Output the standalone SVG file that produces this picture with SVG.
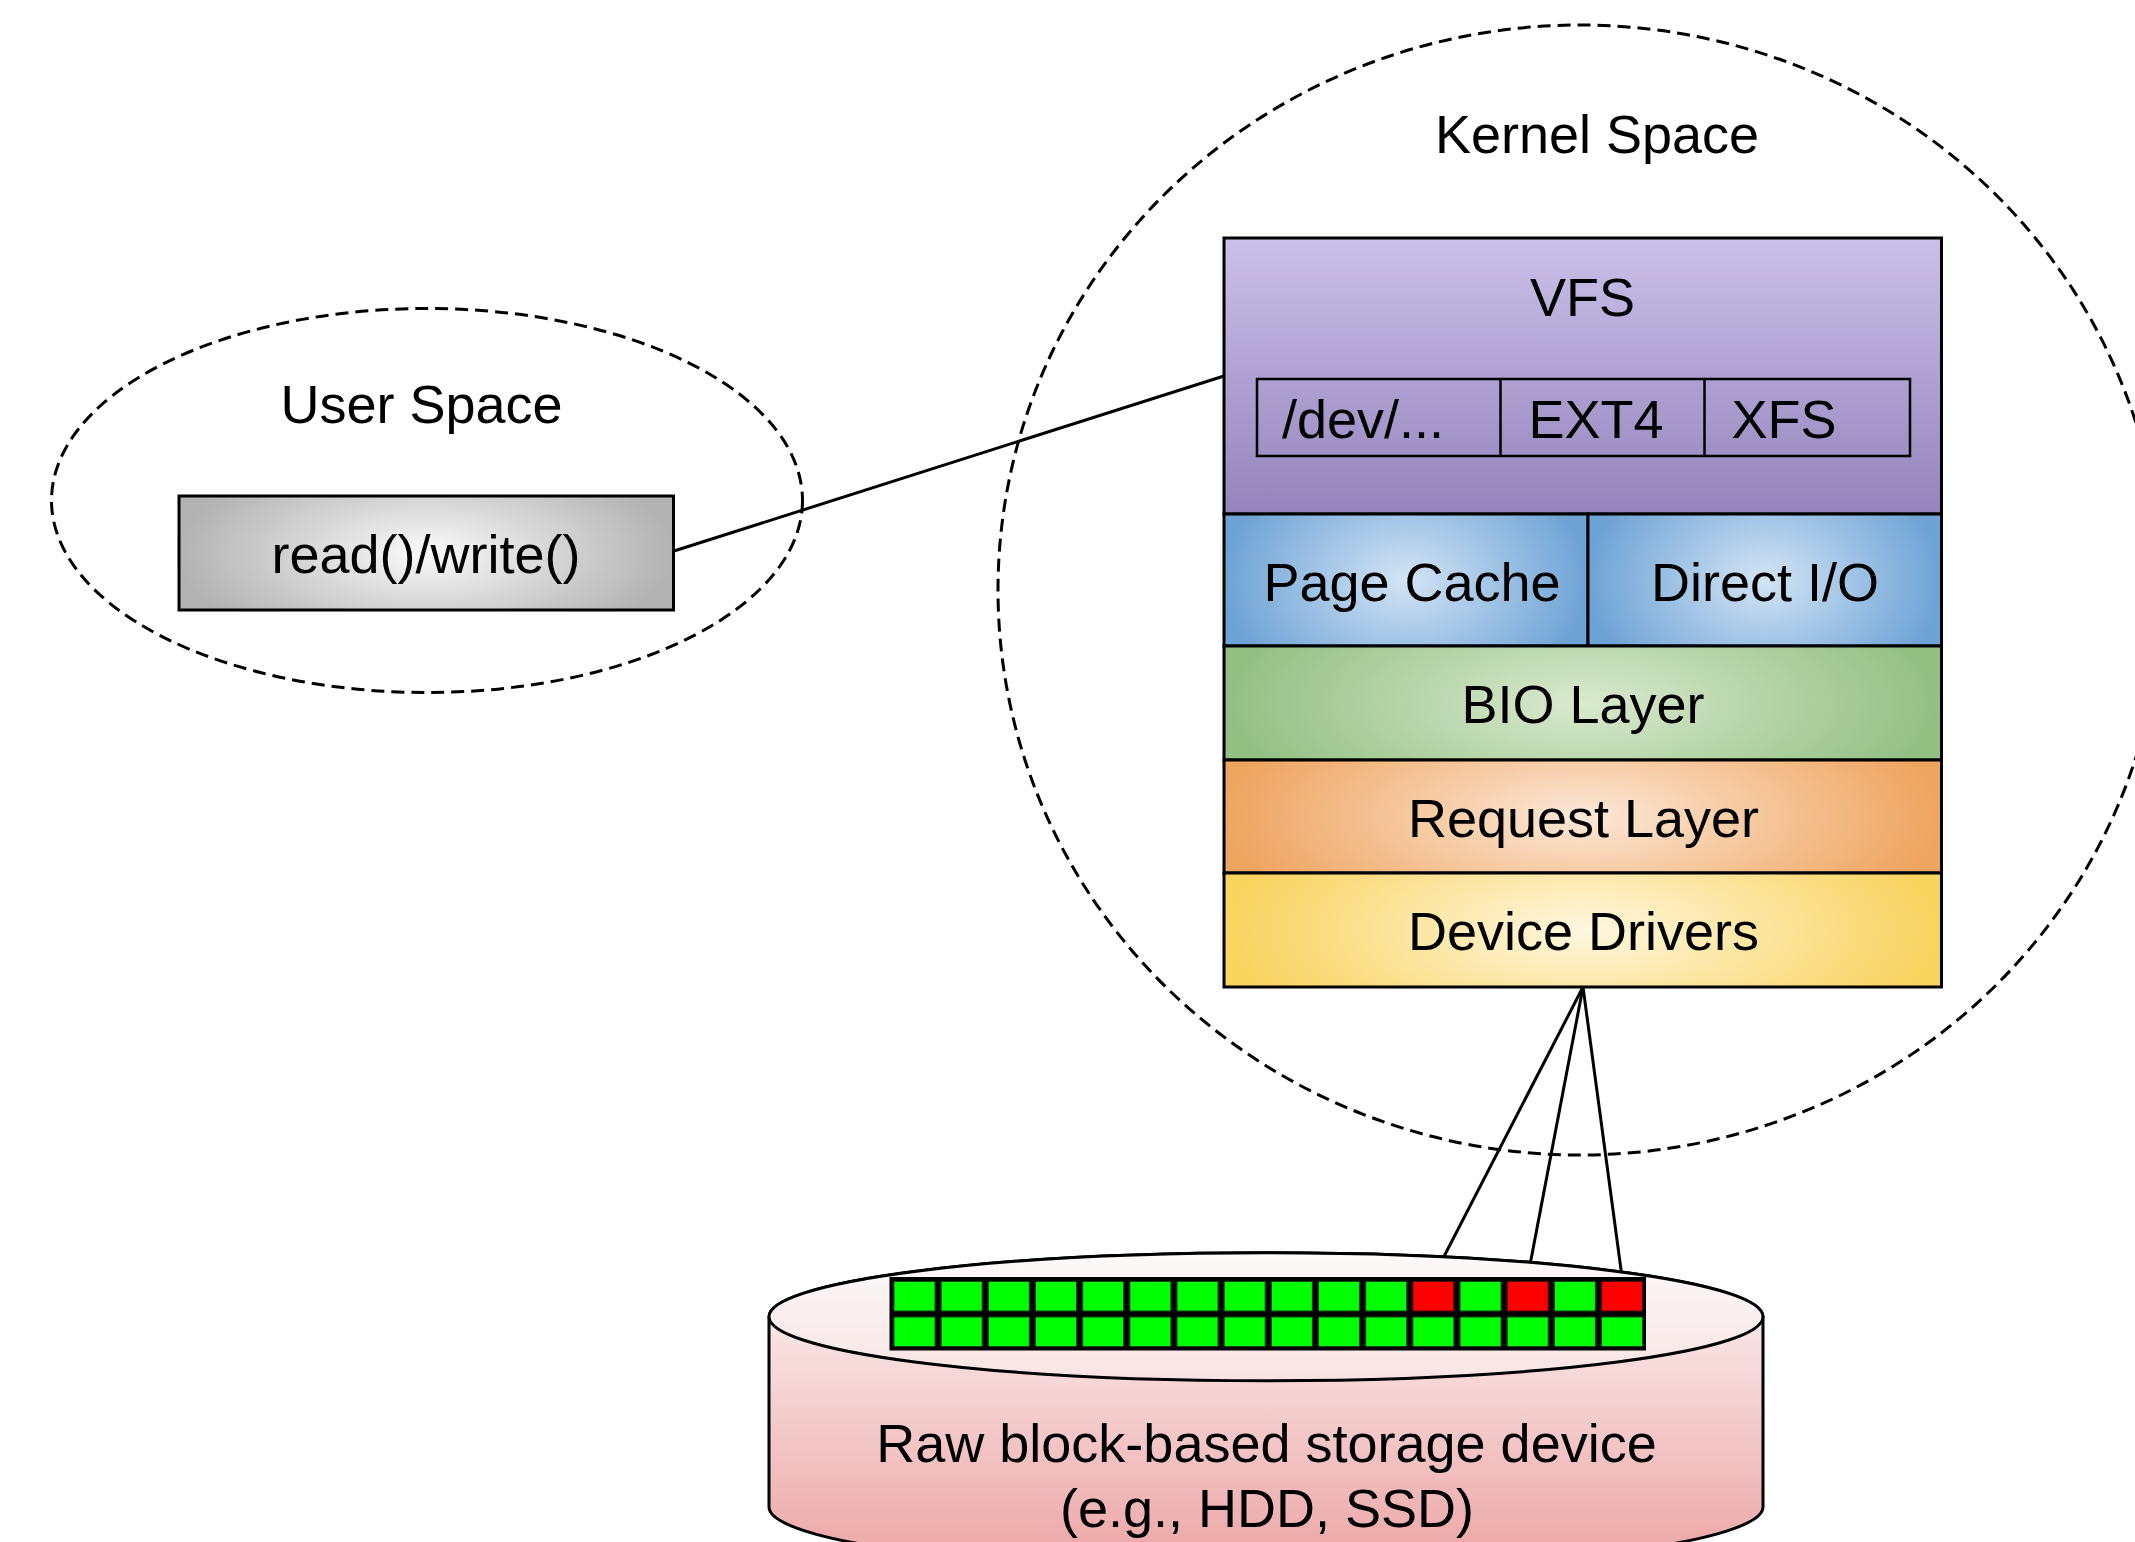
<svg xmlns="http://www.w3.org/2000/svg" width="2135" height="1542" viewBox="0 0 2135 1542">
<style>
text{font-family:"Liberation Sans",Arial,Helvetica,sans-serif;font-size:54px;fill:#000}
.c{text-anchor:middle}
.box{stroke:#000;stroke-width:3}
.cell{fill:none;stroke:#000;stroke-width:2.5}
.zone{fill:none;stroke:#000;stroke-width:3;stroke-dasharray:13 7}
.conn{stroke:#000;stroke-width:3;fill:none}
.g{fill:#00ff00;stroke:#0a4a0a;stroke-width:1}
.r{fill:#ff0000;stroke:#4a0a0a;stroke-width:1}
</style>
<defs>
<linearGradient id="gVfs" x1="0" y1="0" x2="0" y2="1"><stop offset="0" stop-color="#cbc0e9"/><stop offset="1" stop-color="#9384bb"/></linearGradient>
<radialGradient id="gGray" cx="0.5" cy="0.5" r="0.5" gradientTransform="matrix(1 0 0 1.8 0 -0.4)"><stop offset="0" stop-color="#fafafa"/><stop offset="1" stop-color="#b3b3b3"/></radialGradient>
<radialGradient id="gBlue" cx="0.5" cy="0.5" r="0.5" gradientTransform="matrix(1 0 0 2 0 -0.5)"><stop offset="0" stop-color="#d3e4f5"/><stop offset="1" stop-color="#6ea3d5"/></radialGradient>
<radialGradient id="gGreen" cx="0.5" cy="0.5" r="0.5" gradientTransform="matrix(1 0 0 2.4 0 -0.7)"><stop offset="0" stop-color="#d9eacf"/><stop offset="1" stop-color="#93bf83"/></radialGradient>
<radialGradient id="gOrange" cx="0.5" cy="0.5" r="0.5" gradientTransform="matrix(1 0 0 2.4 0 -0.7)"><stop offset="0" stop-color="#fce8d8"/><stop offset="1" stop-color="#eea560"/></radialGradient>
<radialGradient id="gYellow" cx="0.5" cy="0.5" r="0.5" gradientTransform="matrix(1 0 0 2.4 0 -0.7)"><stop offset="0" stop-color="#fff7e0"/><stop offset="1" stop-color="#f8d35e"/></radialGradient>
<linearGradient id="gCyl" x1="0" y1="0" x2="0" y2="1"><stop offset="0" stop-color="#fdf8f8"/><stop offset="1" stop-color="#eca3a3"/></linearGradient>
<linearGradient id="gCylTop" x1="0" y1="0" x2="0" y2="1"><stop offset="0" stop-color="#fdfafa"/><stop offset="1" stop-color="#f8e3e3"/></linearGradient>
</defs>

<g id="user-space">
<ellipse class="zone" cx="427" cy="500.5" rx="375.5" ry="192"/>
<text class="c" x="421.5" y="423">User Space</text>
</g>

<g id="kernel-space">
<ellipse class="zone" cx="1580" cy="590" rx="582" ry="565"/>
<text class="c" x="1597" y="153">Kernel Space</text>
</g>

<g id="connectors">
<line class="conn" x1="674" y1="551" x2="1224" y2="376"/>
<line class="conn" x1="1583" y1="987" x2="1433.4" y2="1277"/>
<line class="conn" x1="1583" y1="987" x2="1527.7" y2="1277"/>
<line class="conn" x1="1583" y1="987" x2="1622" y2="1277"/>
</g>

<g id="read-write">
<rect class="box" x="179" y="496" width="494.5" height="114" fill="url(#gGray)"/>
<text class="c" x="426" y="573">read()/write()</text>
</g>

<g id="vfs">
<rect class="box" x="1224" y="238" width="717.5" height="276" fill="url(#gVfs)"/>
<text class="c" x="1582.5" y="316">VFS</text>
<rect class="cell" x="1257" y="379" width="653" height="77"/>
<line class="cell" x1="1500.5" y1="379" x2="1500.5" y2="456"/>
<line class="cell" x1="1704.5" y1="379" x2="1704.5" y2="456"/>
<text x="1282" y="438">/dev/...</text>
<text x="1528.5" y="438">EXT4</text>
<text x="1731.5" y="438">XFS</text>
</g>

<g id="page-cache">
<rect class="box" x="1224" y="514" width="364" height="132" fill="url(#gBlue)"/>
<text class="c" x="1412" y="600.5">Page Cache</text>
</g>

<g id="direct-io">
<rect class="box" x="1588" y="514" width="353.5" height="132" fill="url(#gBlue)"/>
<text class="c" x="1765" y="600.5">Direct I/O</text>
</g>

<g id="bio-layer">
<rect class="box" x="1224" y="646" width="717.5" height="114" fill="url(#gGreen)"/>
<text class="c" x="1583" y="722.5">BIO Layer</text>
</g>

<g id="request-layer">
<rect class="box" x="1224" y="760" width="717.5" height="113" fill="url(#gOrange)"/>
<text class="c" x="1583.5" y="836.5">Request Layer</text>
</g>

<g id="device-drivers">
<rect class="box" x="1224" y="873" width="717.5" height="114" fill="url(#gYellow)"/>
<text class="c" x="1583.5" y="950">Device Drivers</text>
</g>

<g id="storage-device">
<path class="box" fill="url(#gCyl)" d="M769 1316.7 L769 1507 A497 64 0 0 0 1763 1507 L1763 1316.7 A497 64 0 0 0 769 1316.7 Z"/>
<ellipse class="box" cx="1266" cy="1316.7" rx="497" ry="64" fill="url(#gCylTop)"/>
<rect x="889.5" y="1277" width="756.5" height="73.5" fill="#000"/>
<g>
<rect class="g" x="894" y="1281.5" width="41" height="29.5"/>
<rect class="g" x="941.17" y="1281.5" width="41" height="29.5"/>
<rect class="g" x="988.34" y="1281.5" width="41" height="29.5"/>
<rect class="g" x="1035.51" y="1281.5" width="41" height="29.5"/>
<rect class="g" x="1082.68" y="1281.5" width="41" height="29.5"/>
<rect class="g" x="1129.85" y="1281.5" width="41" height="29.5"/>
<rect class="g" x="1177.02" y="1281.5" width="41" height="29.5"/>
<rect class="g" x="1224.19" y="1281.5" width="41" height="29.5"/>
<rect class="g" x="1271.36" y="1281.5" width="41" height="29.5"/>
<rect class="g" x="1318.53" y="1281.5" width="41" height="29.5"/>
<rect class="g" x="1365.7" y="1281.5" width="41" height="29.5"/>
<rect class="r" x="1412.87" y="1281.5" width="41" height="29.5"/>
<rect class="g" x="1460.04" y="1281.5" width="41" height="29.5"/>
<rect class="r" x="1507.21" y="1281.5" width="41" height="29.5"/>
<rect class="g" x="1554.38" y="1281.5" width="41" height="29.5"/>
<rect class="r" x="1601.55" y="1281.5" width="41" height="29.5"/>
<rect class="g" x="894" y="1317" width="41" height="29.5"/>
<rect class="g" x="941.17" y="1317" width="41" height="29.5"/>
<rect class="g" x="988.34" y="1317" width="41" height="29.5"/>
<rect class="g" x="1035.51" y="1317" width="41" height="29.5"/>
<rect class="g" x="1082.68" y="1317" width="41" height="29.5"/>
<rect class="g" x="1129.85" y="1317" width="41" height="29.5"/>
<rect class="g" x="1177.02" y="1317" width="41" height="29.5"/>
<rect class="g" x="1224.19" y="1317" width="41" height="29.5"/>
<rect class="g" x="1271.36" y="1317" width="41" height="29.5"/>
<rect class="g" x="1318.53" y="1317" width="41" height="29.5"/>
<rect class="g" x="1365.7" y="1317" width="41" height="29.5"/>
<rect class="g" x="1412.87" y="1317" width="41" height="29.5"/>
<rect class="g" x="1460.04" y="1317" width="41" height="29.5"/>
<rect class="g" x="1507.21" y="1317" width="41" height="29.5"/>
<rect class="g" x="1554.38" y="1317" width="41" height="29.5"/>
<rect class="g" x="1601.55" y="1317" width="41" height="29.5"/>
</g>
<text class="c" x="1266.5" y="1461.5">Raw block-based storage device</text>
<text class="c" x="1267" y="1526.5">(e.g., HDD, SSD)</text>
</g>
</svg>
